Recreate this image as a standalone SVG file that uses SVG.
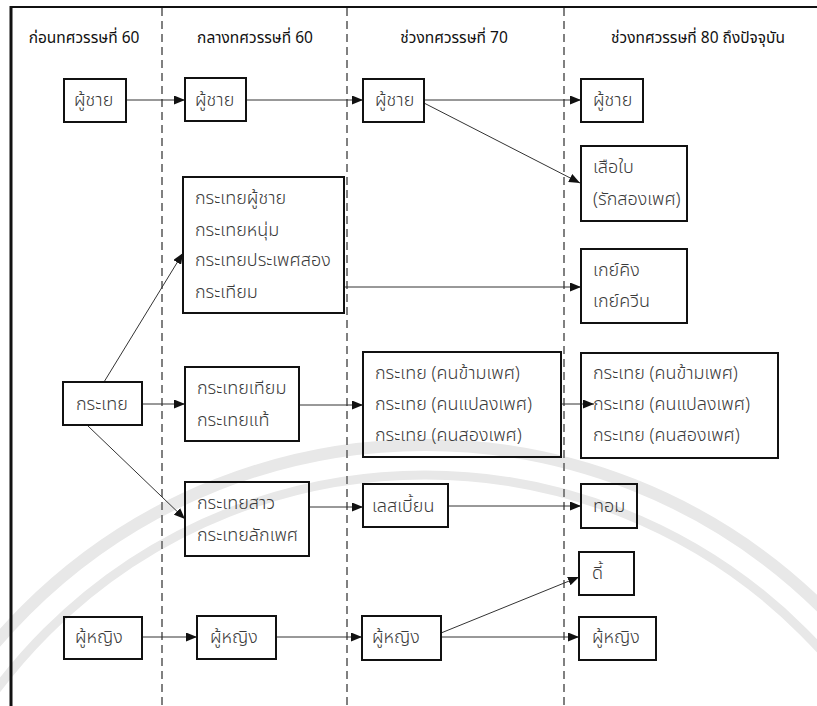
<svg xmlns="http://www.w3.org/2000/svg" width="817" height="706" viewBox="0 0 817 706">
<style>
  .box { fill: none; stroke: #111; stroke-width: 2; }
  .t { font-family: "Noto Sans Thai", "Noto Sans Thai UI", "Leelawadee UI", Tahoma, "Noto Sans", "DejaVu Sans", sans-serif; font-size: 18px; font-weight: 300; fill: #3a3a3a; }
  .h { font-family: "Noto Sans Thai", "Noto Sans Thai UI", "Leelawadee UI", Tahoma, "Noto Sans", "DejaVu Sans", sans-serif; font-size: 15.5px; font-weight: 400; fill: #111; text-anchor: middle; }
  .lane { stroke: #808080; stroke-width: 2; stroke-dasharray: 8 5; }
  .c { stroke: #333; stroke-width: 1; fill: none; marker-end: url(#ah); }
  .wm { fill: none; stroke: #e8e8e8; }
</style>
<defs>
  <marker id="ah" markerUnits="userSpaceOnUse" markerWidth="11" markerHeight="9" refX="11" refY="4.5" orient="auto">
    <path d="M0,0 L11,4.5 L0,9 z" fill="#111"/>
  </marker>
</defs>
<rect width="817" height="706" fill="#fff"/>
<g id="watermark">
  <circle class="wm" cx="425" cy="1010" r="565" stroke-width="12"/>
  <circle class="wm" cx="425" cy="1010" r="535" stroke-width="9"/>
</g>
<g id="frame">
  <line x1="10" y1="7" x2="817" y2="7" stroke="#111" stroke-width="2"/>
  <line x1="11" y1="6" x2="11" y2="706" stroke="#111" stroke-width="3"/>
</g>
<g id="lanes">
  <line class="lane" x1="162" y1="8" x2="162" y2="706"/>
  <line class="lane" x1="347" y1="8" x2="347" y2="706"/>
  <line class="lane" x1="564" y1="8" x2="564" y2="706"/>
</g>
<g id="headers">
  <text class="h" x="84" y="43">ก่อนทศวรรษที่ 60</text>
  <text class="h" x="255" y="43">กลางทศวรรษที่ 60</text>
  <text class="h" x="454" y="43">ช่วงทศวรรษที่ 70</text>
  <text class="h" x="698" y="43">ช่วงทศวรรษที่ 80 ถึงปัจจุบัน</text>
</g>
<g id="connectors">
  <line class="c" x1="126" y1="100" x2="185" y2="100"/>
  <line class="c" x1="246" y1="100" x2="363" y2="100"/>
  <line class="c" x1="424" y1="100" x2="581" y2="100"/>
  <line class="c" x1="424" y1="103" x2="580" y2="183"/>
  <line class="c" x1="104" y1="382" x2="183" y2="253"/>
  <line class="c" x1="142" y1="404" x2="185" y2="404"/>
  <line class="c" x1="88" y1="426" x2="185" y2="519"/>
  <line class="c" x1="344" y1="287" x2="581" y2="287"/>
  <line class="c" x1="299" y1="405" x2="363" y2="405"/>
  <line class="c" x1="561" y1="404" x2="594" y2="404"/>
  <line class="c" x1="309" y1="507" x2="363" y2="507"/>
  <line class="c" x1="448" y1="506" x2="581" y2="506"/>
  <line class="c" x1="142" y1="637" x2="197" y2="637"/>
  <line class="c" x1="276" y1="637" x2="362" y2="637"/>
  <line class="c" x1="441" y1="637" x2="579" y2="637"/>
  <line class="c" x1="441" y1="633" x2="579" y2="577"/>
</g>
<g id="man1"><rect class="box" x="64" y="79" width="62" height="43"/><text class="t" x="74" y="106">ผู้ชาย</text></g>
<g id="man2"><rect class="box" x="185" y="78" width="61" height="43"/><text class="t" x="195" y="106">ผู้ชาย</text></g>
<g id="man3"><rect class="box" x="363" y="79" width="61" height="43"/><text class="t" x="375" y="106">ผู้ชาย</text></g>
<g id="man4"><rect class="box" x="581" y="79" width="62" height="43"/><text class="t" x="593" y="106">ผู้ชาย</text></g>
<g id="suea-bai"><rect class="box" x="581" y="146" width="106" height="75"/><text class="t" x="593" y="173">เสือใบ</text><text class="t" x="593" y="205">(รักสองเพศ)</text></g>
<g id="gay"><rect class="box" x="581" y="249" width="106" height="74"/><text class="t" x="593" y="276">เกย์คิง</text><text class="t" x="593" y="307">เกย์ควีน</text></g>
<g id="kathoey-man"><rect class="box" x="183" y="177" width="161" height="136"/>
  <text class="t" x="195" y="204">กระเทยผู้ชาย</text>
  <text class="t" x="195" y="236">กระเทยหนุ่ม</text>
  <text class="t" x="195" y="266">กระเทยประเพศสอง</text>
  <text class="t" x="195" y="298">กระเทียม</text></g>
<g id="kathoey"><rect class="box" x="63" y="382" width="79" height="43"/><text class="t" x="76" y="410">กระเทย</text></g>
<g id="kathoey-fake"><rect class="box" x="185" y="367" width="114" height="74"/><text class="t" x="197" y="394">กระเทยเทียม</text><text class="t" x="197" y="426">กระเทยแท้</text></g>
<g id="kathoey-70"><rect class="box" x="363" y="352" width="198" height="105"/>
  <text class="t" x="375" y="379">กระเทย (คนข้ามเพศ)</text>
  <text class="t" x="375" y="410">กระเทย (คนแปลงเพศ)</text>
  <text class="t" x="375" y="441">กระเทย (คนสองเพศ)</text></g>
<g id="kathoey-80"><rect class="box" x="581" y="353" width="197" height="105"/>
  <text class="t" x="593" y="379">กระเทย (คนข้ามเพศ)</text>
  <text class="t" x="593" y="410">กระเทย (คนแปลงเพศ)</text>
  <text class="t" x="593" y="441">กระเทย (คนสองเพศ)</text></g>
<g id="kathoey-girl"><rect class="box" x="185" y="482" width="124" height="74"/><text class="t" x="197" y="509">กระเทยสาว</text><text class="t" x="197" y="541">กระเทยลักเพศ</text></g>
<g id="lesbian"><rect class="box" x="363" y="484" width="85" height="43"/><text class="t" x="372" y="512">เลสเบี้ยน</text></g>
<g id="tom"><rect class="box" x="581" y="484" width="56" height="44"/><text class="t" x="593" y="512">ทอม</text></g>
<g id="dee"><rect class="box" x="579" y="552" width="55" height="43"/><text class="t" x="592" y="579">ดี้</text></g>
<g id="woman1"><rect class="box" x="64" y="617" width="78" height="42"/><text class="t" x="75" y="643">ผู้หญิง</text></g>
<g id="woman2"><rect class="box" x="197" y="616" width="79" height="43"/><text class="t" x="210" y="643">ผู้หญิง</text></g>
<g id="woman3"><rect class="box" x="362" y="616" width="79" height="44"/><text class="t" x="372" y="643">ผู้หญิง</text></g>
<g id="woman4"><rect class="box" x="579" y="617" width="77" height="43"/><text class="t" x="592" y="643">ผู้หญิง</text></g>
</svg>
